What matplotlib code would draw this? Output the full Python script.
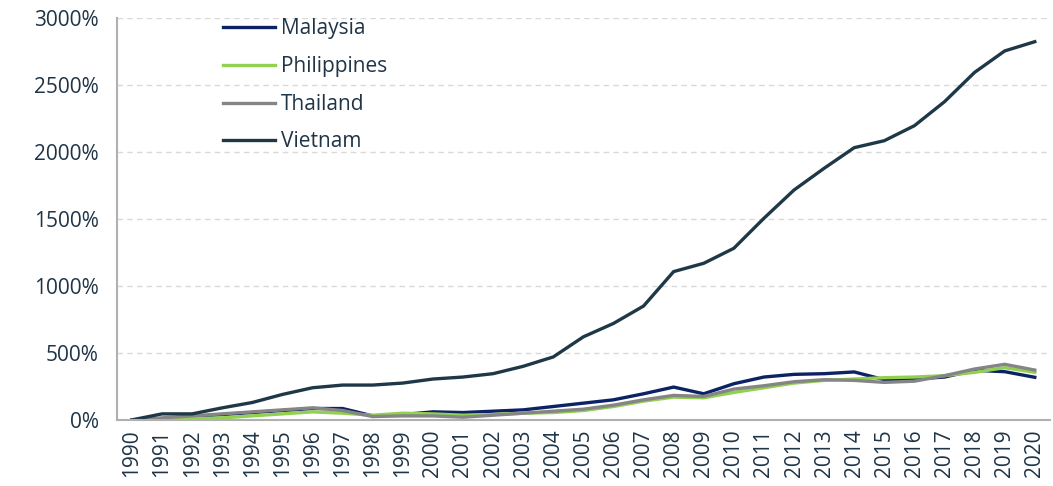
import matplotlib.pyplot as plt
import numpy as np

years = [str(y) for y in range(1990, 2021)]

malaysia = [0, 10, 25, 40, 55, 70, 85, 85, 30, 40, 60, 55, 65, 75, 100, 125, 150,
            195, 245, 195, 270, 320, 340, 345, 358, 300, 305, 320, 370, 360, 318]
philippines = [0, 5, 10, 15, 30, 45, 60, 50, 35, 50, 45, 35, 40, 50, 55, 70, 100,
               140, 170, 165, 205, 240, 275, 295, 305, 315, 320, 330, 355, 390, 355]
thailand = [0, 15, 30, 45, 60, 75, 90, 70, 25, 30, 30, 20, 35, 50, 65, 80, 110,
            150, 183, 175, 230, 255, 285, 300, 295, 280, 289, 330, 380, 415, 372]
vietnam = [0, 45, 45, 90, 130, 190, 240, 260, 260, 275, 305, 320, 345, 400, 470,
           620, 720, 850, 1107, 1169, 1281, 1505, 1716, 1878, 2032, 2084, 2196,
           2375, 2594, 2754, 2823]

names = ['Malaysia', 'Philippines', 'Thailand', 'Vietnam']
colors = ['#0b2265', '#92d050', '#858585', '#1f3847']
txt = '#1f3447'

plt.rcParams['font.family'] = ['Open Sans', 'DejaVu Sans']

fig = plt.figure(figsize=(10.53, 4.86), dpi=100)
ax = fig.add_axes([0.111, 0.136, 0.886, 0.827])

x = np.arange(len(years))
for name, vals, c in zip(names, [malaysia, philippines, thailand, vietnam], colors):
    ax.plot(x, vals, color=c, lw=2.4, label=name, solid_joinstyle='miter')

ax.set_xlim(-0.5, len(years) - 0.5)
ax.set_ylim(0, 3000)
ax.set_xticks(x)
ax.set_xticklabels(years, rotation=90, fontsize=15, color=txt)
ax.set_yticks(range(0, 3001, 500))
ax.set_yticklabels([f'{v}%' for v in range(0, 3001, 500)], fontsize=15, color=txt)
ax.tick_params(axis='y', length=0, pad=13)
ax.tick_params(axis='x', length=0, pad=7)

ax.grid(axis='y', color='#d9d9d9', ls=(0, (4, 3)), lw=1)
ax.set_axisbelow(True)
for s in ['top', 'right']:
    ax.spines[s].set_visible(False)
for s in ['left', 'bottom']:
    ax.spines[s].set_color('#b0b0b0')
    ax.spines[s].set_linewidth(1.5)

leg = ax.legend(loc='upper left', bbox_to_anchor=(0.098, 1.035), frameon=False,
                fontsize=15, handlelength=2.5, handletextpad=0.3, labelspacing=0.8,
                borderaxespad=0.3)
for t in leg.get_texts():
    t.set_color(txt)

fig.savefig('out.png', dpi=100)
